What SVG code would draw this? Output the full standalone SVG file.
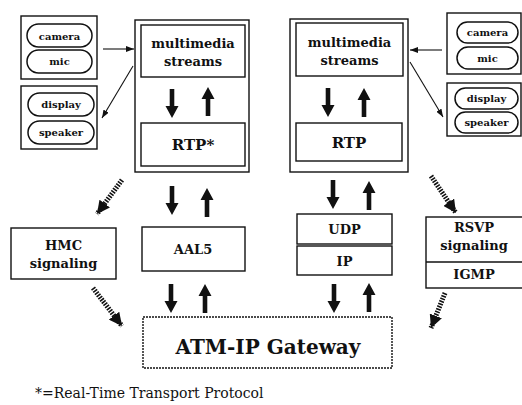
<svg xmlns="http://www.w3.org/2000/svg" width="522" height="405" viewBox="0 0 522 405">
  <style>
    .box { fill: #fff; stroke: #111; stroke-width: 1.4; }
    .pill { fill: #fff; stroke: #111; stroke-width: 1.5; }
    .gw { fill: #fff; stroke: #111; stroke-width: 1.4; stroke-dasharray: 2 1; }
    text { font-family: "DejaVu Serif", "Liberation Serif", serif; font-weight: bold; fill: #111; text-anchor: middle; }
    .dev { font-size: 10px; }
    .lbl { font-size: 13px; }
    .rtp { font-size: 15px; }
    .big { font-size: 20px; }
    .note { font-size: 14px; font-weight: normal; text-anchor: start; }
    .thin { stroke: #111; stroke-width: 1.1; fill: none; marker-end: url(#thinHead); }
    .hatch { stroke: #111; stroke-width: 5; fill: none; stroke-dasharray: 1.6 1.2; marker-end: url(#fatHead); }
  </style>
  <defs>
    <marker id="thinHead" markerUnits="userSpaceOnUse" viewBox="0 0 8 6" refX="8" refY="3" markerWidth="8" markerHeight="6" orient="auto">
      <path d="M0,0 L8,3 L0,6 Z" fill="#111"/>
    </marker>
    <marker id="fatHead" markerUnits="userSpaceOnUse" viewBox="0 0 13 13" refX="13" refY="6.5" markerWidth="13" markerHeight="13" orient="auto">
      <path d="M0,0 L13,6.5 L0,13 Z" fill="#111"/>
    </marker>
    <!-- solid block arrow pointing down, tip at the origin -->
    <path id="blk" d="M-2.3,-29 L2.3,-29 L2.3,-12 L6.5,-12 L0,0 L-6.5,-12 L-2.3,-12 Z" fill="#111"/>
  </defs>

  <!-- left terminal: devices -->
  <g id="left-capture">
    <rect class="box" x="21" y="16" width="76" height="63"/>
    <rect class="pill" x="27" y="24" width="65" height="23" rx="11.5"/>
    <text class="dev" x="59.5" y="39.5">camera</text>
    <rect class="pill" x="27" y="50" width="65" height="23" rx="11.5"/>
    <text class="dev" x="59.5" y="65">mic</text>
  </g>
  <g id="left-playback">
    <rect class="box" x="21" y="86" width="76" height="63"/>
    <rect class="pill" x="28" y="93" width="66" height="23" rx="11.5"/>
    <text class="dev" x="61" y="108">display</text>
    <rect class="pill" x="28" y="121" width="66" height="23" rx="11.5"/>
    <text class="dev" x="61" y="136">speaker</text>
  </g>

  <!-- left terminal: protocol stack -->
  <g id="left-stack">
    <rect class="box" x="135" y="20" width="114" height="152"/>
  </g>
  <g id="left-streams">
    <rect class="box" x="141" y="25" width="104" height="52"/>
    <text class="lbl" x="193" y="48">multimedia</text>
    <text class="lbl" x="193" y="66">streams</text>
  </g>
  <g id="left-rtp">
    <rect class="box" x="141" y="123" width="104" height="43"/>
    <text class="rtp" x="193" y="150">RTP*</text>
  </g>
  <g id="aal5">
    <rect class="box" x="142" y="227" width="103" height="44"/>
    <text class="lbl" x="193" y="254">AAL5</text>
  </g>
  <g id="hmc">
    <rect class="box" x="11" y="228" width="105" height="51"/>
    <text class="lbl" x="63.5" y="250">HMC</text>
    <text class="lbl" x="63.5" y="268">signaling</text>
  </g>

  <!-- right terminal: devices -->
  <g id="right-capture">
    <rect class="box" x="447" y="13" width="74" height="61"/>
    <rect class="pill" x="457" y="22" width="61" height="21" rx="10.5"/>
    <text class="dev" x="487.5" y="36">camera</text>
    <rect class="pill" x="457" y="47" width="61" height="22" rx="11"/>
    <text class="dev" x="487.5" y="61.5">mic</text>
  </g>
  <g id="right-playback">
    <rect class="box" x="447" y="83" width="74" height="53"/>
    <rect class="pill" x="455" y="88" width="63" height="21" rx="10.5"/>
    <text class="dev" x="486.5" y="102">display</text>
    <rect class="pill" x="455" y="112" width="63" height="21" rx="10.5"/>
    <text class="dev" x="486.5" y="126">speaker</text>
  </g>

  <!-- right terminal: protocol stack -->
  <g id="right-stack">
    <rect class="box" x="290" y="19" width="118" height="153"/>
  </g>
  <g id="right-streams">
    <rect class="box" x="296" y="23" width="107" height="53"/>
    <text class="lbl" x="349.5" y="47">multimedia</text>
    <text class="lbl" x="349.5" y="65">streams</text>
  </g>
  <g id="right-rtp">
    <rect class="box" x="296" y="123" width="106" height="38"/>
    <text class="rtp" x="349" y="148">RTP</text>
  </g>
  <g id="udp">
    <rect class="box" x="297" y="214" width="95" height="30"/>
    <text class="lbl" x="344.5" y="234">UDP</text>
  </g>
  <g id="ip">
    <rect class="box" x="297" y="246" width="95" height="29"/>
    <text class="lbl" x="344.5" y="266">IP</text>
  </g>
  <g id="rsvp">
    <rect class="box" x="426" y="217" width="97" height="71"/>
    <line x1="426" y1="262" x2="522" y2="262" stroke="#111" stroke-width="1.4"/>
    <text class="lbl" x="474" y="232">RSVP</text>
    <text class="lbl" x="474" y="250">signaling</text>
    <text class="lbl" x="474" y="279">IGMP</text>
  </g>

  <!-- gateway -->
  <g id="gateway">
    <rect class="gw" x="143" y="317" width="249" height="51"/>
    <text class="big" x="268" y="354">ATM-IP Gateway</text>
  </g>

  <!-- footnote -->
  <text class="note" x="35" y="398">*=Real-Time Transport Protocol</text>

  <!-- connectors -->
  <g id="connectors">
    <!-- device links -->
    <line class="thin" x1="103" y1="49" x2="134" y2="49"/>
    <line class="thin" x1="133" y1="66" x2="102" y2="118"/>
    <line class="thin" x1="442" y1="50" x2="410" y2="50"/>
    <line class="thin" x1="410" y1="62" x2="443" y2="117"/>

    <!-- data path block arrows -->
    <use href="#blk" transform="translate(172,118)"/>
    <use href="#blk" transform="translate(208,87) rotate(180)"/>
    <use href="#blk" transform="translate(328,117)"/>
    <use href="#blk" transform="translate(364,88) rotate(180)"/>

    <use href="#blk" transform="translate(172,215)"/>
    <use href="#blk" transform="translate(207,188) rotate(180)"/>
    <use href="#blk" transform="translate(333,209)"/>
    <use href="#blk" transform="translate(369,181) rotate(180)"/>

    <use href="#blk" transform="translate(171,313)"/>
    <use href="#blk" transform="translate(205,284) rotate(180)"/>
    <use href="#blk" transform="translate(334,313)"/>
    <use href="#blk" transform="translate(369,283) rotate(180)"/>

    <!-- signaling paths -->
    <line class="hatch" x1="122" y1="180" x2="97" y2="214"/>
    <line class="hatch" x1="93" y1="288" x2="122" y2="326"/>
    <line class="hatch" x1="431" y1="176" x2="456" y2="213"/>
    <line class="hatch" x1="445" y1="293" x2="431" y2="328"/>
  </g>
</svg>
